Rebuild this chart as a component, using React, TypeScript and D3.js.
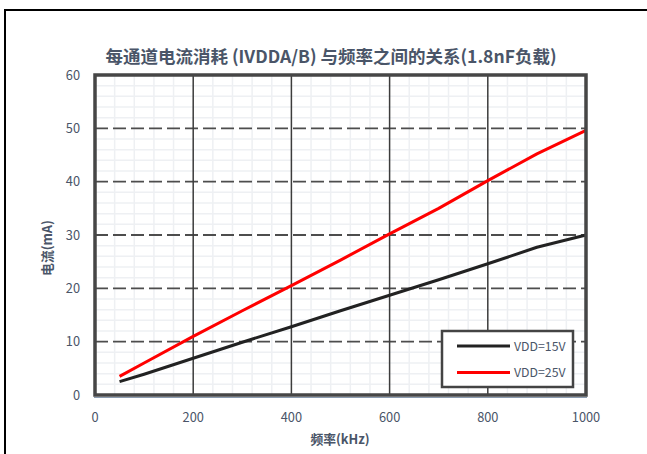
import React from "react";
import * as d3 from "d3";

const freqs = [50, 100, 200, 300, 400, 500, 600, 700, 800, 900, 1000];
const vdd15 = [2.5, 3.9, 6.9, 9.9, 12.8, 15.8, 18.7, 21.6, 24.6, 27.7, 30.0];
const vdd25 = [3.5, 6.0, 11.0, 15.8, 20.5, 25.3, 30.2, 35.0, 40.2, 45.2, 49.6];
const seriesNames = ["VDD=15V", "VDD=25V"];
const seriesColors = ["#222222", "#ff0000"];
const xTicks = [0, 200, 400, 600, 800, 1000];
const yTicks = [0, 10, 20, 30, 40, 50, 60];
const title = "每通道电流消耗 (IVDDA/B) 与频率之间的关系(1.8nF负载)";
const xTitle = "频率(kHz)";
const yTitle = "电流(mA)";

const W = 647;
const H = 454;
const X0 = 95, X1 = 586, Y0 = 395, Y1 = 75;
const textColor = "#4a5568";
const font = "'Noto Sans CJK SC', 'Noto Sans', sans-serif";

export default function App() {
  const x = d3.scaleLinear().domain([0, 1000]).range([X0, X1]);
  const y = d3.scaleLinear().domain([0, 60]).range([Y0, Y1]);
  const minorX = d3.range(40, 1000, 40).filter((v) => v % 200 !== 0);
  const minorY = d3.range(2, 60, 2).filter((v) => v % 10 !== 0);
  const line = d3
    .line<number>()
    .x((_, i) => x(freqs[i]))
    .y((d) => y(d));
  const series = [vdd15, vdd25];

  const lx0 = 442, ly0 = 331, lw = 131, lh = 56;

  return (
    <svg width={W} height={H} style={{ position: "absolute", left: 0, top: 0 }}>
      <rect x={0} y={0} width={W} height={H} fill="#fff" />
      {/* outer frame */}
      <line x1={4} y1={10} x2={W} y2={10} stroke="#000" strokeWidth={2} />
      <line x1={5} y1={9} x2={5} y2={H} stroke="#000" strokeWidth={2} />

      <text x={331} y={63} textAnchor="middle" fontFamily={font} fontWeight="bold" fontSize={17.5} fill={textColor}>
        {title}
      </text>

      {/* minor grid */}
      {minorX.map((v) => (
        <line key={"mx" + v} x1={x(v)} x2={x(v)} y1={Y1} y2={Y0} stroke="#eef0f3" strokeWidth={1.5} />
      ))}
      {minorY.map((v) => (
        <line key={"my" + v} x1={X0} x2={X1} y1={y(v)} y2={y(v)} stroke="#eef0f3" strokeWidth={1.5} />
      ))}
      {/* major grid */}
      {yTicks.slice(1, -1).map((v) => (
        <line key={"gy" + v} x1={X0} x2={X1} y1={y(v)} y2={y(v)} stroke="#4d4d4d" strokeWidth={1.8} strokeDasharray="13 5" />
      ))}
      {xTicks.slice(1, -1).map((v) => (
        <line key={"gx" + v} x1={x(v)} x2={x(v)} y1={Y1} y2={Y0} stroke="#3c3c3c" strokeWidth={1.5} />
      ))}

      {/* series */}
      {series.map((s, i) => (
        <path key={"s" + i} d={line(s) || ""} fill="none" stroke={seriesColors[i]} strokeWidth={3} strokeLinejoin="round" />
      ))}

      {/* plot frame */}
      <line x1={X0 - 1} x2={X1 + 1} y1={Y0 + 2.5} y2={Y0 + 2.5} stroke="#8a9bb0" strokeWidth={1.2} />
      <rect x={X0} y={Y1} width={X1 - X0} height={Y0 - Y1} fill="none" stroke="#464646" strokeWidth={3.5} />

      {/* legend */}
      <rect x={lx0} y={ly0} width={lw} height={lh} fill="#fff" stroke="#444" strokeWidth={2.5} />
      {seriesNames.map((n, i) => (
        <g key={n}>
          <line x1={457} x2={510} y1={346 + i * 26.5} y2={346 + i * 26.5} stroke={seriesColors[i]} strokeWidth={3} />
          <text x={514} y={346 + i * 26.5 + 4.5} fontFamily={font} fontSize={12.3} fill={textColor}>
            {n}
          </text>
        </g>
      ))}

      {/* ticks */}
      {yTicks.map((v) => (
        <text key={"ty" + v} x={80} y={y(v) + 4.5} textAnchor="end" fontFamily={font} fontSize={12.8} fill={textColor}>
          {v}
        </text>
      ))}
      {xTicks.map((v) => (
        <text key={"tx" + v} x={x(v)} y={422} textAnchor="middle" fontFamily={font} fontSize={12.8} fill={textColor}>
          {v}
        </text>
      ))}

      <text x={340} y={444} textAnchor="middle" fontFamily={font} fontWeight="bold" fontSize={12.8} fill={textColor}>
        {xTitle}
      </text>
      <text
        transform={`translate(52,${248}) rotate(-90)`}
        textAnchor="middle"
        fontFamily={font}
        fontWeight="bold"
        fontSize={12.8}
        fill={textColor}
      >
        {yTitle}
      </text>
    </svg>
  );
}
